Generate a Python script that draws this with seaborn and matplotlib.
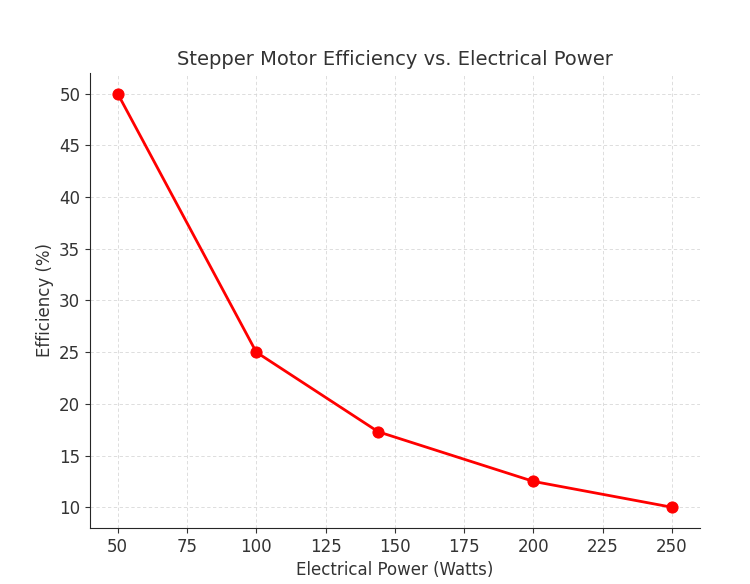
import pandas as pd
import matplotlib.pyplot as plt
import seaborn as sns

power = [50, 100, 144, 200, 250]
efficiency = [50, 25, 17.3, 12.5, 10]

df = pd.DataFrame({"power": power, "efficiency": efficiency})

sns.set_style("ticks")
plt.rcParams['text.color'] = '#333333'
plt.rcParams['axes.labelcolor'] = '#333333'
plt.rcParams['xtick.color'] = '#333333'
plt.rcParams['ytick.color'] = '#333333'

fig = plt.figure(figsize=(7.5, 5.84), dpi=100)
ax = fig.add_axes([0.12, 0.096, 0.813, 0.779])
sns.lineplot(data=df, x="power", y="efficiency", marker="o", color="red",
             linewidth=2, markersize=8, markeredgecolor="red", ax=ax)
ax.grid(True, linestyle=(0, (4, 3)), color="#d8d8d8", linewidth=0.6)
ax.set_axisbelow(True)
sns.despine(ax=ax)
ax.set_title("Stepper Motor Efficiency vs. Electrical Power", fontsize=14)
ax.set_xlabel("Electrical Power (Watts)", fontsize=12)
ax.set_ylabel("Efficiency (%)", fontsize=12)
ax.tick_params(labelsize=12)
ax.set_xticks(range(50, 251, 25))
ax.set_yticks(range(10, 51, 5))

fig.savefig("out.png", dpi=100)
